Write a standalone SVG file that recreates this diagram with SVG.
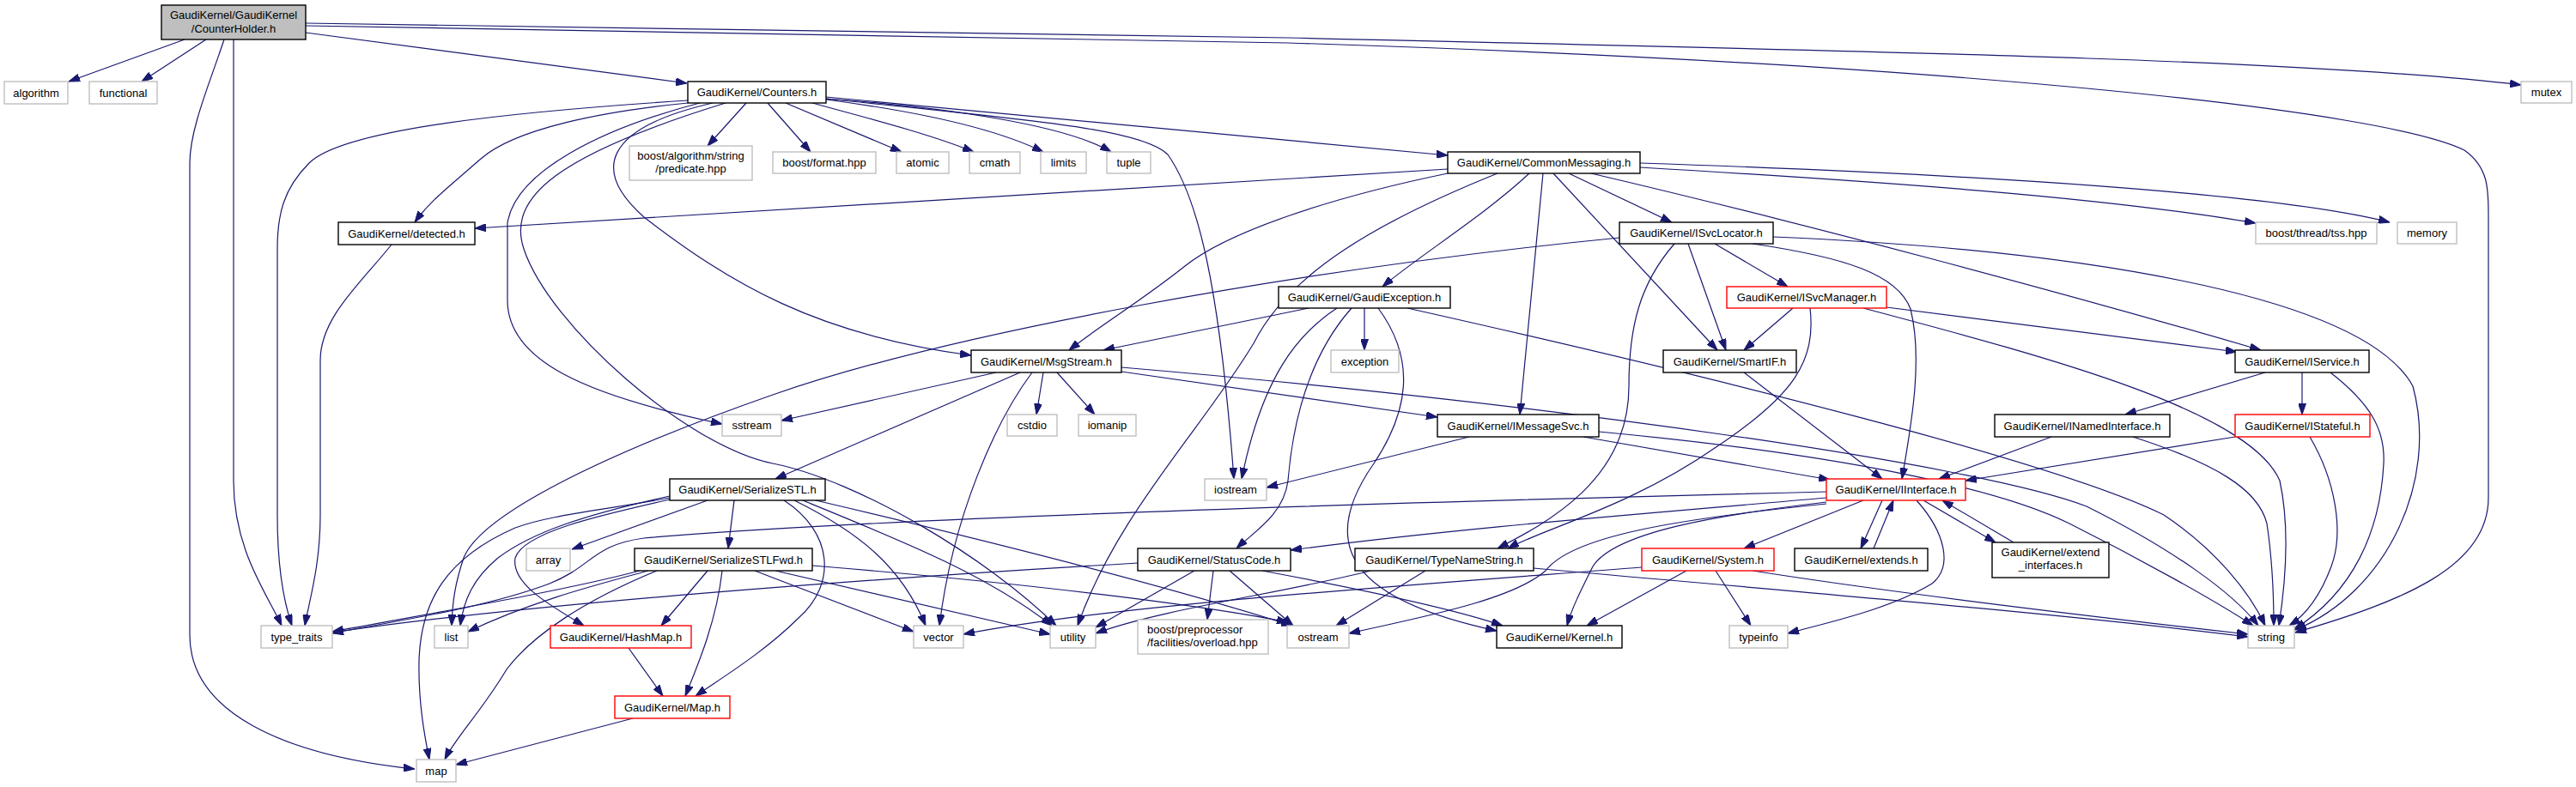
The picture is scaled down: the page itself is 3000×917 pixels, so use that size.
<svg xmlns="http://www.w3.org/2000/svg" width="3000" height="917" viewBox="0 0 3000 917">
<style>
.n rect{fill:#fff;stroke-width:1.4}
.doc rect{stroke:#000}
.ext rect{stroke:#bfbfbf}
.red rect{stroke:#ff0000}
.root rect{fill:#bfbfbf;stroke:#000}
text{font-family:"Liberation Sans",Arial,sans-serif;font-size:13px;fill:#000;text-anchor:middle}
#edges path{fill:none;stroke:#191970;stroke-width:1.2;marker-end:url(#ah)}
</style>
<defs>
<marker id="ah" markerUnits="userSpaceOnUse" viewBox="0 0 13 9" markerWidth="13" markerHeight="9" refX="13" refY="4.5" orient="auto">
<path d="M0,0 L13,4.5 L0,9 z" fill="#191970" stroke="#191970"/>
</marker>
</defs>
<rect width="3000" height="917" fill="#fff"/>
<g id="edges">
<path d="M215,46 L80,95"/>
<path d="M240,46 L165,95"/>
<path d="M261,46 C245,95 221,150 221,190 L221,740 C221,830 330,880 483,896"/>
<path d="M272,46 L272,560 C272,640 310,690 328,729"/>
<path d="M356,38 L800,97"/>
<path d="M356,27 L1500,44 C2200,60 2700,70 2936,99"/>
<path d="M356,30 L1500,50 C2300,75 2780,130 2870,175 C2898,195 2898,220 2898,250 L2898,580 C2898,660 2800,700 2673,737"/>
<path d="M869,120 L824,170"/>
<path d="M894,120 L944,177"/>
<path d="M915,120 L1050,177"/>
<path d="M946,120 C1000,135 1080,155 1134,177"/>
<path d="M962,116 C1070,130 1160,150 1215,177"/>
<path d="M962,115 C1100,125 1240,145 1294,177"/>
<path d="M962,113 L1686,181"/>
<path d="M962,115 C1200,140 1330,150 1360,180 C1395,230 1420,330 1437,558"/>
<path d="M801,120 C700,130 600,150 560,185 C520,220 500,235 483,259"/>
<path d="M801,117 C600,130 400,150 360,190 C330,220 323,250 323,290 L323,600 C323,660 330,700 340,729"/>
<path d="M815,120 C700,150 600,200 591,260 L591,350 C591,420 680,460 841,494"/>
<path d="M830,120 C700,150 690,200 750,253 C850,330 950,390 1131,414"/>
<path d="M845,120 C650,180 590,230 610,290 C640,380 800,520 900,540 C1000,560 1150,650 1230,729"/>
<path d="M456,285 C420,330 373,370 373,420 L373,600 C373,660 360,700 355,729"/>
<path d="M1686,197 L553,266"/>
<path d="M1686,202 C1550,230 1430,270 1380,310 C1330,350 1280,380 1245,408"/>
<path d="M1744,202 C1600,260 1500,320 1460,400 C1400,500 1300,600 1255,729"/>
<path d="M1781,202 C1730,250 1650,300 1610,334"/>
<path d="M1797,202 L1770,483"/>
<path d="M1809,202 L2000,408"/>
<path d="M1827,202 L1947,259"/>
<path d="M1853,202 C2100,260 2400,340 2633,408"/>
<path d="M1910,195 C2200,212 2450,230 2627,260"/>
<path d="M1910,190 C2300,203 2650,225 2783,259"/>
<path d="M1886,277 C1500,315 1100,390 900,460 C700,530 560,600 540,650 C530,680 527,700 526,729"/>
<path d="M1950,284 C1910,330 1897,380 1897,450 C1897,560 1800,610 1744,639"/>
<path d="M1966,284 L2010,408"/>
<path d="M1997,284 L2082,334"/>
<path d="M2041,284 C2150,300 2210,320 2225,360 C2240,420 2225,500 2215,558"/>
<path d="M2065,276 C2400,290 2750,340 2810,450 C2840,560 2780,690 2673,734"/>
<path d="M2088,359 L2031,408"/>
<path d="M2108,359 C2115,420 2090,460 2000,520 C1900,590 1800,615 1756,639"/>
<path d="M2197,358 L2605,410"/>
<path d="M2170,359 C2400,420 2620,480 2655,560 C2668,620 2660,690 2654,729"/>
<path d="M1524,359 L1285,408"/>
<path d="M1557,359 C1510,390 1470,440 1446,558"/>
<path d="M1589,359 L1589,408"/>
<path d="M1574,359 C1520,420 1505,500 1500,560 C1495,600 1460,620 1440,639"/>
<path d="M1605,359 C1650,420 1640,480 1600,540 C1530,640 1580,700 1743,735"/>
<path d="M1639,359 C2000,440 2400,540 2520,600 C2580,640 2620,690 2638,729"/>
<path d="M1160,434 L910,490"/>
<path d="M1188,434 L903,558"/>
<path d="M1215,434 L1207,483"/>
<path d="M1231,434 L1275,483"/>
<path d="M1202,434 C1160,490 1110,600 1094,729"/>
<path d="M1306,433 L1674,486"/>
<path d="M1306,428 C1800,470 2300,540 2430,590 C2530,640 2600,690 2630,729"/>
<path d="M1711,509 L1475,568"/>
<path d="M1844,509 L2131,559"/>
<path d="M1862,503 C2150,530 2330,570 2410,610 C2490,650 2580,700 2624,729"/>
<path d="M2031,434 L2192,558"/>
<path d="M2638,434 L2475,483"/>
<path d="M2681,434 L2681,483"/>
<path d="M2714,434 C2760,470 2778,500 2776,540 C2772,620 2740,690 2672,733"/>
<path d="M2389,509 L2258,558"/>
<path d="M2484,509 C2580,540 2630,570 2640,610 C2646,650 2648,700 2648,729"/>
<path d="M2603,509 L2289,560"/>
<path d="M2690,509 C2720,560 2730,620 2715,660 C2700,700 2680,720 2666,729"/>
<path d="M2127,573 C1600,586 1000,605 750,627 C690,635 690,660 640,680 C560,710 450,725 387,738"/>
<path d="M2127,580 C1900,600 1700,615 1503,641"/>
<path d="M2127,585 C2000,600 1880,620 1855,660 C1840,690 1830,710 1825,729"/>
<path d="M2127,587 C1950,605 1830,625 1800,665 C1760,700 1650,720 1571,738"/>
<path d="M2170,583 L2031,639"/>
<path d="M2192,583 L2167,639"/>
<path d="M2182,639 L2205,583"/>
<path d="M2240,583 L2324,632"/>
<path d="M2345,632 L2262,583"/>
<path d="M2232,583 C2265,620 2275,660 2250,680 C2200,710 2130,725 2082,738"/>
<path d="M1912,661 C1600,685 1300,705 1122,739"/>
<path d="M1964,665 L1848,729"/>
<path d="M1998,665 L2039,729"/>
<path d="M2041,665 C2200,690 2450,720 2618,739"/>
<path d="M1596,665 C1500,690 1350,710 1276,738"/>
<path d="M1660,665 L1556,729"/>
<path d="M1786,662 C2100,690 2400,715 2618,742"/>
<path d="M1325,656 C1000,675 600,705 387,737"/>
<path d="M1391,665 L1276,731"/>
<path d="M1413,665 L1406,722"/>
<path d="M1432,665 L1506,729"/>
<path d="M1470,665 C1550,680 1680,705 1750,729"/>
<path d="M855,583 L848,639"/>
<path d="M824,583 L666,640"/>
<path d="M780,578 C680,600 620,620 580,650 C550,675 540,700 536,729"/>
<path d="M780,580 C700,595 640,600 600,615 C520,650 490,700 488,770 C487,820 495,860 500,885"/>
<path d="M780,582 C700,600 610,620 600,650 C595,680 640,705 680,729"/>
<path d="M913,583 C970,620 975,680 930,720 C890,760 840,790 810,811"/>
<path d="M925,583 C1000,620 1050,660 1078,729"/>
<path d="M935,583 C1050,630 1150,670 1225,729"/>
<path d="M950,583 C1150,630 1350,680 1505,729"/>
<path d="M755,665 C700,680 620,700 545,736"/>
<path d="M745,665 C650,690 500,715 387,736"/>
<path d="M765,665 C680,700 620,740 590,780 C560,830 530,860 518,885"/>
<path d="M824,665 L770,729"/>
<path d="M841,665 C835,720 815,770 798,811"/>
<path d="M879,665 L1064,736"/>
<path d="M903,665 L1223,739"/>
<path d="M946,659 C1200,680 1400,705 1500,725"/>
<path d="M732,755 L772,811"/>
<path d="M737,837 L531,891"/>
</g>
<g id="CounterHolder" class="n root"><rect x="188" y="6" width="168" height="40"/><text x="272" y="22">GaudiKernel/GaudiKernel</text><text x="272" y="38">/CounterHolder.h</text></g>
<g id="algorithm" class="n ext"><rect x="5" y="95" width="74" height="26"/><text x="42" y="112.5">algorithm</text></g>
<g id="functional" class="n ext"><rect x="104" y="95" width="79" height="26"/><text x="143.5" y="112.5">functional</text></g>
<g id="Counters" class="n doc"><rect x="801" y="95" width="161" height="25"/><text x="881.5" y="112">GaudiKernel/Counters.h</text></g>
<g id="mutex" class="n ext"><rect x="2936" y="95" width="59" height="25"/><text x="2965.5" y="112">mutex</text></g>
<g id="predicate" class="n ext"><rect x="733" y="170" width="143" height="40"/><text x="804.5" y="186">boost/algorithm/string</text><text x="804.5" y="201">/predicate.hpp</text></g>
<g id="format" class="n ext"><rect x="900" y="177" width="120" height="25"/><text x="960" y="194">boost/format.hpp</text></g>
<g id="atomic" class="n ext"><rect x="1044" y="177" width="61" height="25"/><text x="1074.5" y="194">atomic</text></g>
<g id="cmath" class="n ext"><rect x="1129" y="177" width="59" height="25"/><text x="1158.5" y="194">cmath</text></g>
<g id="limits" class="n ext"><rect x="1212" y="177" width="53" height="25"/><text x="1238.5" y="194">limits</text></g>
<g id="tuple" class="n ext"><rect x="1289" y="177" width="51" height="25"/><text x="1314.5" y="194">tuple</text></g>
<g id="CommonMessaging" class="n doc"><rect x="1686" y="177" width="224" height="25"/><text x="1798" y="194">GaudiKernel/CommonMessaging.h</text></g>
<g id="detected" class="n doc"><rect x="394" y="259" width="159" height="26"/><text x="473.5" y="276.5">GaudiKernel/detected.h</text></g>
<g id="ISvcLocator" class="n doc"><rect x="1886" y="259" width="179" height="25"/><text x="1975.5" y="276">GaudiKernel/ISvcLocator.h</text></g>
<g id="tss" class="n ext"><rect x="2627" y="259" width="141" height="25"/><text x="2697.5" y="276">boost/thread/tss.hpp</text></g>
<g id="memory" class="n ext"><rect x="2792" y="259" width="69" height="25"/><text x="2826.5" y="276">memory</text></g>
<g id="GaudiException" class="n doc"><rect x="1489" y="334" width="200" height="25"/><text x="1589" y="351">GaudiKernel/GaudiException.h</text></g>
<g id="ISvcManager" class="n red"><rect x="2011" y="334" width="186" height="25"/><text x="2104" y="351">GaudiKernel/ISvcManager.h</text></g>
<g id="MsgStream" class="n doc"><rect x="1131" y="408" width="175" height="26"/><text x="1218.5" y="425.5">GaudiKernel/MsgStream.h</text></g>
<g id="exception" class="n ext"><rect x="1550" y="408" width="79" height="26"/><text x="1589.5" y="425.5">exception</text></g>
<g id="SmartIF" class="n doc"><rect x="1937" y="408" width="155" height="26"/><text x="2014.5" y="425.5">GaudiKernel/SmartIF.h</text></g>
<g id="IService" class="n doc"><rect x="2603" y="408" width="156" height="26"/><text x="2681" y="425.5">GaudiKernel/IService.h</text></g>
<g id="sstream" class="n ext"><rect x="841" y="483" width="69" height="25"/><text x="875.5" y="500">sstream</text></g>
<g id="cstdio" class="n ext"><rect x="1173" y="483" width="58" height="25"/><text x="1202" y="500">cstdio</text></g>
<g id="iomanip" class="n ext"><rect x="1256" y="483" width="67" height="25"/><text x="1289.5" y="500">iomanip</text></g>
<g id="IMessageSvc" class="n doc"><rect x="1674" y="483" width="188" height="26"/><text x="1768" y="500.5">GaudiKernel/IMessageSvc.h</text></g>
<g id="INamedInterface" class="n doc"><rect x="2323" y="483" width="204" height="26"/><text x="2425" y="500.5">GaudiKernel/INamedInterface.h</text></g>
<g id="IStateful" class="n red"><rect x="2603" y="483" width="157" height="26"/><text x="2681.5" y="500.5">GaudiKernel/IStateful.h</text></g>
<g id="SerializeSTL" class="n doc"><rect x="780" y="558" width="181" height="25"/><text x="870.5" y="575">GaudiKernel/SerializeSTL.h</text></g>
<g id="iostream" class="n ext"><rect x="1403" y="558" width="72" height="25"/><text x="1439" y="575">iostream</text></g>
<g id="IInterface" class="n red"><rect x="2127" y="558" width="162" height="25"/><text x="2208" y="575">GaudiKernel/IInterface.h</text></g>
<g id="array" class="n ext"><rect x="613" y="639" width="51" height="26"/><text x="638.5" y="656.5">array</text></g>
<g id="SerializeSTLFwd" class="n doc"><rect x="739" y="639" width="207" height="26"/><text x="842.5" y="656.5">GaudiKernel/SerializeSTLFwd.h</text></g>
<g id="StatusCode" class="n doc"><rect x="1325" y="639" width="178" height="26"/><text x="1414" y="656.5">GaudiKernel/StatusCode.h</text></g>
<g id="TypeNameString" class="n doc"><rect x="1578" y="639" width="208" height="26"/><text x="1682" y="656.5">GaudiKernel/TypeNameString.h</text></g>
<g id="System" class="n red"><rect x="1912" y="639" width="154" height="26"/><text x="1989" y="656.5">GaudiKernel/System.h</text></g>
<g id="extends" class="n doc"><rect x="2090" y="639" width="155" height="26"/><text x="2167.5" y="656.5">GaudiKernel/extends.h</text></g>
<g id="extend_interfaces" class="n doc"><rect x="2320" y="632" width="136" height="41"/><text x="2388" y="648">GaudiKernel/extend</text><text x="2388" y="663">_interfaces.h</text></g>
<g id="type_traits" class="n ext"><rect x="304" y="729" width="83" height="26"/><text x="345.5" y="746.5">type_traits</text></g>
<g id="list" class="n ext"><rect x="506" y="729" width="39" height="26"/><text x="525.5" y="746.5">list</text></g>
<g id="HashMap" class="n red"><rect x="641" y="729" width="164" height="26"/><text x="723" y="746.5">GaudiKernel/HashMap.h</text></g>
<g id="vector" class="n ext"><rect x="1064" y="729" width="58" height="26"/><text x="1093" y="746.5">vector</text></g>
<g id="utility" class="n ext"><rect x="1223" y="729" width="53" height="26"/><text x="1249.5" y="746.5">utility</text></g>
<g id="overload" class="n ext"><rect x="1325" y="722" width="152" height="40"/><text x="1336" y="738" style="text-anchor:start">boost/preprocessor</text><text x="1336" y="753" style="text-anchor:start">/facilities/overload.hpp</text></g>
<g id="ostream" class="n ext"><rect x="1499" y="729" width="72" height="26"/><text x="1535" y="746.5">ostream</text></g>
<g id="Kernel" class="n doc"><rect x="1743" y="729" width="146" height="26"/><text x="1816" y="746.5">GaudiKernel/Kernel.h</text></g>
<g id="typeinfo" class="n ext"><rect x="2014" y="729" width="68" height="26"/><text x="2048" y="746.5">typeinfo</text></g>
<g id="string" class="n ext"><rect x="2618" y="729" width="54" height="26"/><text x="2645" y="746.5">string</text></g>
<g id="Map" class="n red"><rect x="716" y="811" width="134" height="26"/><text x="783" y="828.5">GaudiKernel/Map.h</text></g>
<g id="map" class="n ext"><rect x="485" y="885" width="46" height="26"/><text x="508" y="902.5">map</text></g>
</svg>
